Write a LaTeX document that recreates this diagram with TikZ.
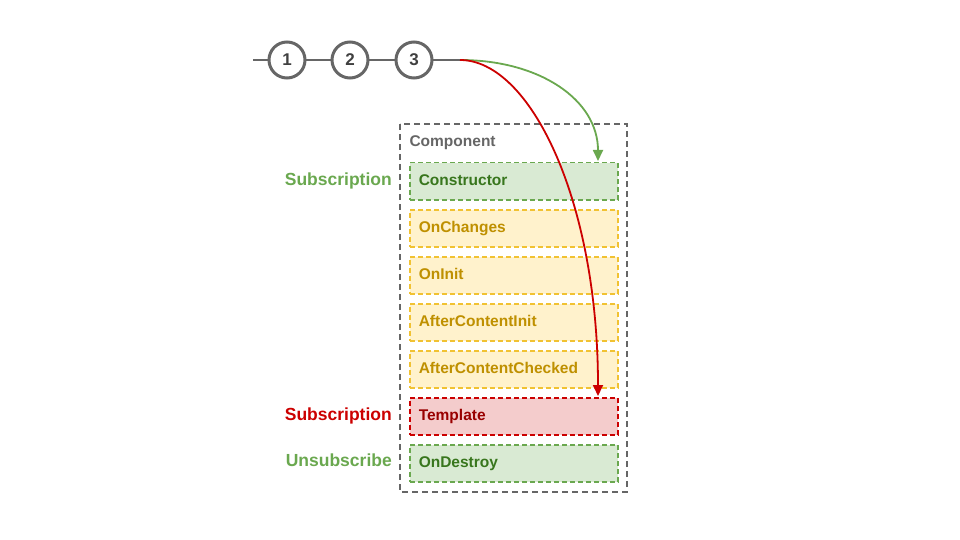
\documentclass[tikz,border=0pt]{standalone}
\usepackage{fontspec}
\setmainfont{Liberation Sans}
\usetikzlibrary{arrows.meta}
\definecolor{grn}{HTML}{6AA84F}
\definecolor{grnfill}{HTML}{D9EAD3}
\definecolor{grntxt}{HTML}{38761D}
\definecolor{yel}{HTML}{F1C232}
\definecolor{yelfill}{HTML}{FFF2CC}
\definecolor{yeltxt}{HTML}{BF9000}
\definecolor{rd}{HTML}{CC0000}
\definecolor{rdfill}{HTML}{F4CCCC}
\definecolor{rdtxt}{HTML}{990000}
\definecolor{gry}{HTML}{666666}
\tikzset{
  rowbox/.style={draw, dashed, dash pattern=on 5pt off 3pt, line width=1.5pt, minimum width=208pt, minimum height=37pt,
    anchor=north west, inner sep=0pt, font=\bfseries\fontsize{15.5}{17}\selectfont, text width=190pt, align=left,
    text height=11pt, text depth=2pt},
  grnrow/.style={rowbox, draw=grn, fill=grnfill, text=grntxt},
  yelrow/.style={rowbox, draw=yel, fill=yelfill, text=yeltxt},
  rdrow/.style={rowbox, draw=rd, fill=rdfill, text=rdtxt},
  ball/.style={circle, draw=gry, line width=3pt, fill=white, minimum size=36pt, inner sep=0pt,
    font=\bfseries\fontsize{17}{19}\selectfont, text=black!75},
  sidelabel/.style={anchor=east, inner sep=0pt, font=\bfseries\fontsize{17.5}{19}\selectfont},
  arr/.style={line width=1.8pt, -{Triangle[length=11pt,width=10pt]}},
}
\begin{document}
\begin{tikzpicture}[x=1pt,y=-1pt]
\useasboundingbox (0,0) rectangle (960,540);
\coordinate (lstart) at (253,60);
\coordinate (lend) at (460,60);
\draw[gry, line width=2pt] (lstart) -- (lend);
\node[ball] (c1) at (287,60) {1};
\node[ball] (c2) at (350,60) {2};
\node[ball] (c3) at (414,60) {3};
\draw[gry, line width=1.5pt, dash pattern=on 6pt off 4pt] (400,124) rectangle (627,492);
\node[anchor=west, text=gry, font=\bfseries\fontsize{15.5}{17}\selectfont] (comp) at (406,143) {Component};
\node[grnrow] (ctor) at (409,162) {Constructor};
\node[yelrow] (onch) at (409,209) {OnChanges};
\node[yelrow] (oninit) at (409,256) {OnInit};
\node[yelrow] (aci) at (409,303) {AfterContentInit};
\node[yelrow] (acc) at (409,350) {AfterContentChecked};
\node[rdrow] (tmpl) at (409,397) {Template};
\node[grnrow] (ondes) at (409,444) {OnDestroy};
\node[sidelabel, text=grn] (s1) at (392,181) {Subscription};
\node[sidelabel, text=rd] (s2) at (392,416) {Subscription};
\node[sidelabel, text=grn] (s3) at (392,460) {Unsubscribe};
\coordinate (gtip) at (598,161);
\coordinate (rtip) at (598,396);
\draw[grn, arr] (lend) .. controls (540,60) and (598,100) .. (gtip);
\draw[rd, arr] (lend) .. controls (530,60) and (598,200) .. (rtip);
\end{tikzpicture}
\end{document}
